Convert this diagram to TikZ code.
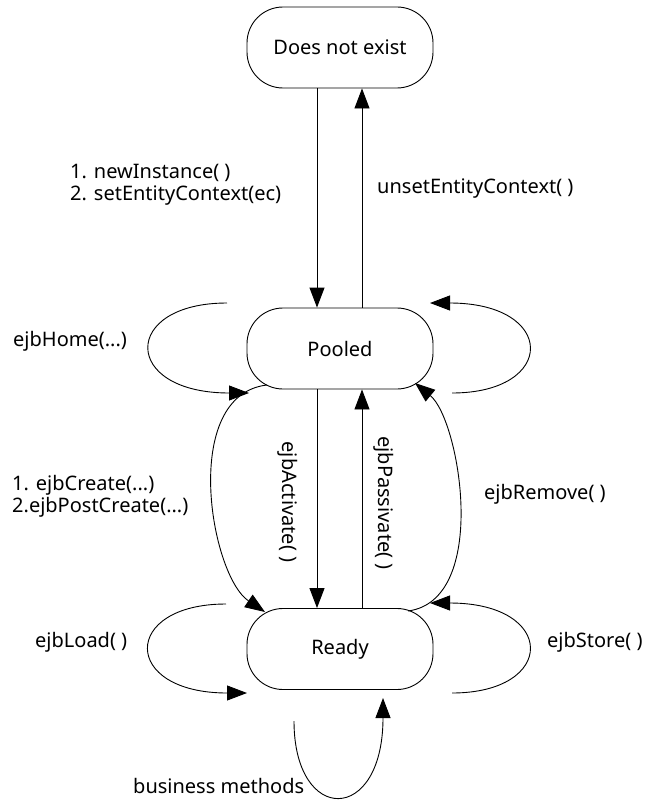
\documentclass[tikz,border=0pt]{standalone}
\usepackage{fontspec}
\setmainfont{Noto Sans}
\usetikzlibrary{arrows.meta}
\begin{document}
\begin{tikzpicture}[x=1pt,y=-1pt,
  state/.style={draw,line width=0.9pt,rounded corners=36pt,minimum width=186pt,minimum height=81pt,inner sep=0pt,font=\fontsize{20}{20}\selectfont},
  arr/.style={line width=0.9pt,-{Triangle[length=20pt,width=15pt]}},
  lbl/.style={font=\fontsize{20}{22}\selectfont,inner sep=0pt,anchor=west,align=left}]
\useasboundingbox (0,0) rectangle (650,800);
\node[state] (dne) at (340,47.5) {Does not exist};
\node[state] (pooled) at (340,348.5) {Pooled};
\node[state] (ready) at (340,649) {Ready};
\coordinate (xa) at (317,0);
\coordinate (xb) at (362,0);
% vertical arrows
\draw[arr] (xa |- dne.south) -- (xa |- pooled.north);
\draw[arr] (xb |- pooled.north) -- (xb |- dne.south);
\draw[arr] (xa |- pooled.south) -- (xa |- ready.north);
\draw[arr] (xb |- ready.north) -- (xb |- pooled.south);
% loop endpoints
\coordinate (h1) at (227,303); \coordinate (h2) at (249,393);
\coordinate (r1) at (452,393); \coordinate (r2) at (430,303);
\coordinate (c1) at (267,385); \coordinate (c2) at (265,612);
\coordinate (m1) at (408,611); \coordinate (m2) at (415,383);
\coordinate (l1) at (226,604); \coordinate (l2) at (247,693);
\coordinate (s1) at (452,693); \coordinate (s2) at (430,603);
\coordinate (b1) at (294,721); \coordinate (b2) at (383,698);
\draw[arr] (h1) .. controls (121,303) and (121,393) .. (h2);
\draw[arr] (r1) .. controls (557,393) and (557,303) .. (r2);
\draw[arr] (c1) .. controls (180,395) and (210,575) .. (c2);
\draw[arr] (m1) .. controls (490,600) and (460,420) .. (m2);
\draw[arr] (l1) .. controls (121,604) and (121,693) .. (l2);
\draw[arr] (s1) .. controls (557,693) and (557,603) .. (s2);
\draw[arr] (b1) .. controls (294,825) and (383,825) .. (b2);
% labels
\node[lbl] (t1) at (70,185) {1. newInstance( )\\2. setEntityContext(ec)};
\node[lbl] (t2) at (377,189) {unsetEntityContext( )};
\node[lbl] (t3) at (13,341) {ejbHome(...)};
\node[lbl] (t4) at (12,496) {1. ejbCreate(...)\\2.ejbPostCreate(...)};
\node[lbl,anchor=center,rotate=-90] (t5) at (288,502) {ejbActivate( )};
\node[lbl,anchor=center,rotate=-90] (t6) at (384,503) {ejbPassivate( )};
\node[lbl] (t7) at (484,494) {ejbRemove( )};
\node[lbl] (t8) at (35,642) {ejbLoad( )};
\node[lbl] (t9) at (547,642) {ejbStore( )};
\node[lbl] (t10) at (133,786) {business methods};
\end{tikzpicture}
\end{document}
